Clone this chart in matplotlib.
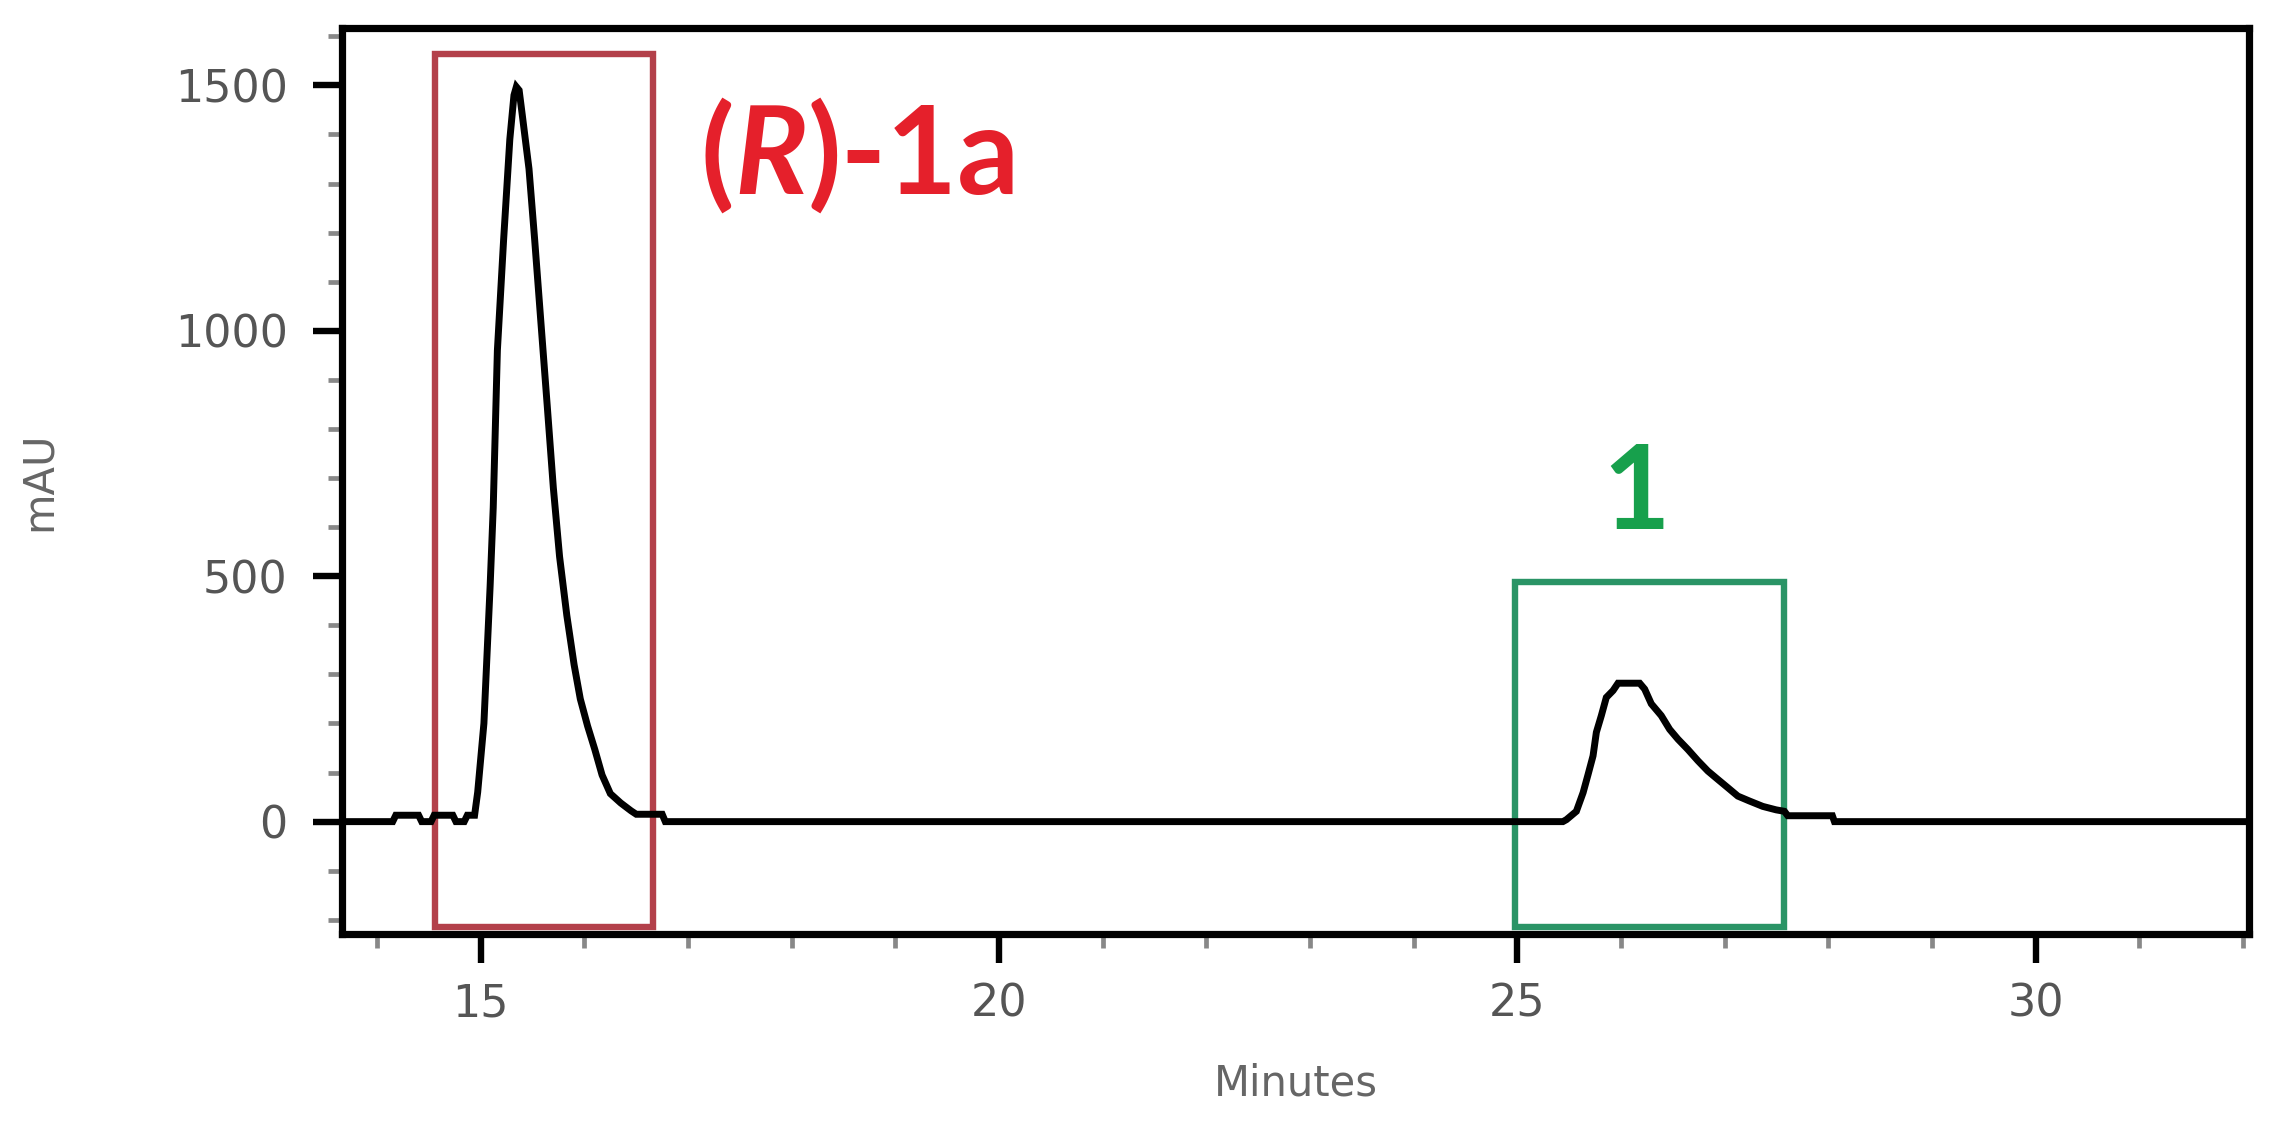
import numpy as np
import matplotlib
matplotlib.use("Agg")
import matplotlib.pyplot as plt
from matplotlib.patches import Rectangle
from matplotlib.ticker import MultipleLocator

# chromatogram trace (minutes, mAU)
time_min = [13.66, 14.15, 14.18, 14.40, 14.43, 14.52, 14.55, 14.73, 14.76, 14.84,
            14.87, 14.94, 14.97, 15.03, 15.09, 15.12, 15.16, 15.22, 15.28, 15.32,
            15.343, 15.37, 15.40, 15.465, 15.52, 15.58, 15.64, 15.70, 15.76, 15.83,
            15.90, 15.96, 16.03, 16.10, 16.17, 16.25, 16.35, 16.45, 16.50, 16.75,
            16.78, 25.44, 25.474, 25.57, 25.635, 25.683, 25.731, 25.763, 25.811,
            25.859, 25.924, 25.972, 26.181, 26.229, 26.293, 26.389, 26.47, 26.55,
            26.646, 26.743, 26.839, 26.935, 27.032, 27.128, 27.24, 27.369, 27.497,
            27.577, 27.61, 28.04, 28.06, 32.06]
signal_mau = [0, 0, 13, 13, 0, 0, 13, 13, 0, 0,
              13, 13, 60, 200, 480, 640, 960, 1185, 1390, 1480,
              1497, 1490, 1440, 1330, 1185, 1017, 850, 680, 540, 420,
              320, 250, 195, 147, 95, 57, 38, 22, 15, 15,
              0, 0, 4, 21, 59, 96, 134, 182, 216,
              253, 267, 282, 282, 270, 240, 216, 188, 168,
              147, 124, 103, 86, 69, 52, 42, 31, 24,
              21, 12, 12, 0, 0]

# boxed regions (start, end in minutes; top in mAU)
red_box = (14.556, 16.665, 1563)
green_box = (24.976, 27.575, 488)

fig = plt.figure(figsize=(22.87, 11.41), dpi=100)
ax = fig.add_axes([0.1495, 0.1814, 0.8339, 0.7941])

ax.plot(time_min, signal_mau, color="black", lw=5.0, zorder=3,
        solid_joinstyle="miter")

ybot = -229
ax.add_patch(Rectangle((red_box[0], -215), red_box[1] - red_box[0], red_box[2] + 215,
                       fill=False, edgecolor="#b3404a", lw=4.6, zorder=2))
ax.add_patch(Rectangle((green_box[0], -215), green_box[1] - green_box[0], green_box[2] + 215,
                       fill=False, edgecolor="#2a9466", lw=4.6, zorder=2))

# (R)-1a label with italic R
red = "#e5202b"
tp = dict(fontsize=88, fontfamily="Lato", fontweight="bold", color=red)
t = ax.text(17.12, 1279, "(", va="baseline", ha="left", **tp)
t = ax.annotate("R", xycoords=t, xy=(1, 0), va="bottom", fontstyle="italic", **tp)
t = ax.annotate(")-1a", xycoords=t, xy=(1, 0), va="bottom", **tp)

ax.text(26.15, 596, "1", va="baseline", ha="center", fontsize=84,
        fontfamily="Lato", fontweight="bold", color="#17a04c")

ax.set_xlim(13.66, 32.06)
ax.set_ylim(ybot, 1617)
ax.xaxis.set_major_locator(MultipleLocator(5))
ax.xaxis.set_minor_locator(MultipleLocator(1))
ax.yaxis.set_major_locator(MultipleLocator(500))
ax.yaxis.set_minor_locator(MultipleLocator(100))

for s in ax.spines.values():
    s.set_linewidth(5.2)
    s.set_color("black")
ax.tick_params(which="major", direction="out", length=21, width=4.6, color="black",
               labelsize=32, labelcolor="#555555")
ax.tick_params(which="minor", direction="out", length=10, width=3.4, color="#888888")
ax.tick_params(axis="x", which="major", pad=14)
ax.tick_params(axis="y", which="major", pad=18)

ax.set_xlabel("Minutes", fontsize=30, color="#666666")
ax.set_ylabel("mAU", fontsize=30, color="#666666")
ax.xaxis.set_label_coords(0.5, -0.142)
ax.yaxis.set_label_coords(-0.148, 0.5)

fig.savefig("out.png", dpi=100, facecolor="white")
